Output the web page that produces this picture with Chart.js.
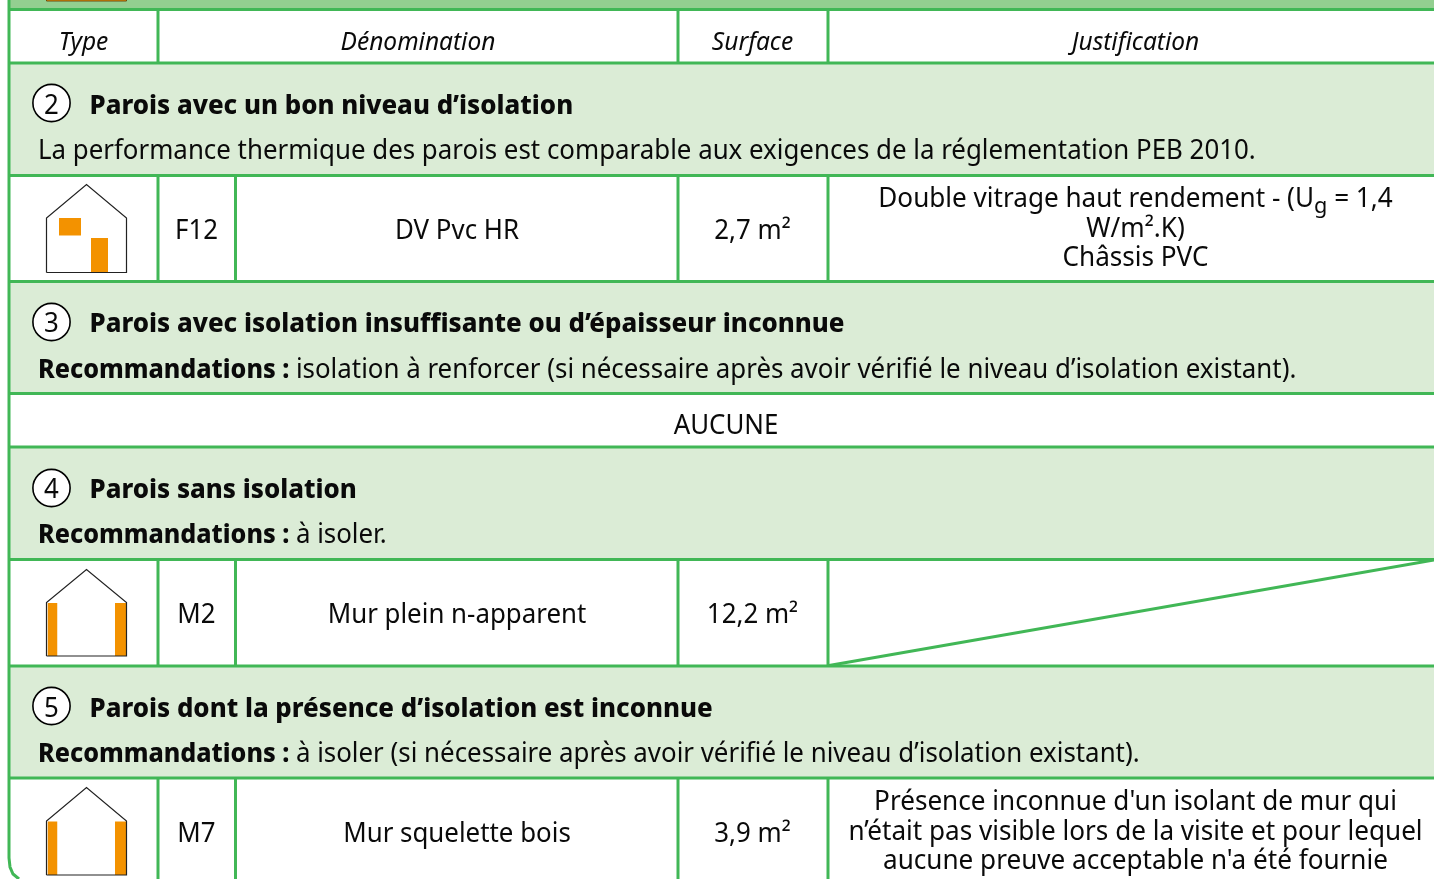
<!DOCTYPE html>
<html lang="fr"><head><meta charset="utf-8">
<script src="https://cdn.jsdelivr.net/npm/chart.js@4/dist/chart.umd.js"></script>
<style>html,body{margin:0;padding:0;background:#fff;overflow:hidden}canvas{display:block}</style>
</head><body><canvas id="c" width="1434" height="879"></canvas>
<script>
// ----- content -----
const headers = ['Type','Dénomination','Surface','Justification'];
const sectionNumbers = ['2','3','4','5'];
const sectionTitles = ['Parois avec un bon niveau d’isolation','Parois avec isolation insuffisante ou d’épaisseur inconnue','Parois sans isolation','Parois dont la présence d’isolation est inconnue'];
const sectionLead = ['','Recommandations :','Recommandations :','Recommandations :'];
const sectionNotes = ['La performance thermique des parois est comparable aux exigences de la réglementation PEB 2010.','isolation à renforcer (si nécessaire après avoir vérifié le niveau d’isolation existant).','à isoler.','à isoler (si nécessaire après avoir vérifié le niveau d’isolation existant).'];
const rowCodes = ['F12','M2','M7'];
const rowNames = ['DV Pvc HR','Mur plein n-apparent','Mur squelette bois'];
const rowSurfaces = ['2,7 m²','12,2 m²','3,9 m²'];
const rowNotes = [['Double vitrage haut rendement - (U|g| = 1,4','W/m².K)','Châssis PVC'],[],['Présence inconnue d\'un isolant de mur qui','n’était pas visible lors de la visite et pour lequel','aucune preuve acceptable n\'a été fournie']];
const emptyLabel = 'AUCUNE';
// ----- table geometry in axis units -----
const sectionTop = [63,281.5,447,666];
const sectionBottom = [175.5,393.5,559.5,778];
const rowTextY = [239,623,842];
const rowNoteY = [207,null,810];
const houseApex = [184.5,569.5,787.5];
const houseEave = [218,602.5,821];
const houseBase = [272.5,656,875];

const GREEN='#41b756', BAND='#dbecd6', TOPBAND='#93cf90', ORANGE='#f39200', INK='#0a0a0a';
const ds=[];
function rect(x0,x1,y0,y1,c){ds.push({type:'line',data:[{x:x0,y:y0},{x:x1,y:y0}],borderWidth:0,borderColor:c,backgroundColor:c,fill:{value:y1},pointRadius:0});}
function line(pts,c,w,t){ds.push({type:'line',data:pts.map(p=>({x:p[0],y:p[1]})),borderColor:c,borderWidth:w,pointRadius:0,fill:false,tension:t||0});}
const RW=3;
rect(9,1434,0,9,TOPBAND);
sectionTop.forEach((t,i)=>rect(9,1434,t,sectionBottom[i],BAND));
rect(46.5,126.5,-2,1,ORANGE);
line([[46.5,-2],[46.5,1],[126.5,1],[126.5,-2]],'#6b4a10',1);
const hr=[9.5,63,...sectionBottom,...sectionTop.slice(1)];
hr.forEach(y=>line([[9,y],[1434,y]],GREEN,RW));
line([[9,0],[9,858],[10,867],[13,874],[19,879]],GREEN,RW);
[158,678,828].forEach(x=>line([[x,10],[x,63]],GREEN,RW));
[[175.5,281.5],[559.5,666],[778,879]].forEach(([a,b])=>[158,235.5,678,828].forEach(x=>line([[x,a],[x,b]],GREEN,RW)));
line([[829,665.5],[1434,560]],GREEN,RW);
houseApex.forEach((a,i)=>{
  const e=houseEave[i],b=houseBase[i];
  if(i===0){rect(59,81,e,e+17.5,ORANGE);rect(91,108,e+20,b,ORANGE);}
  else{rect(47.5,57.5,e+.5,b,ORANGE);rect(115,126,e+.5,b,ORANGE);}
  line([[46.5,b],[46.5,e],[86.5,a],[126.5,e],[126.5,b],[46.5,b]],'#222',1.2);
});
ds.push({type:'scatter',data:[103,322,488,706].map(y=>({x:51.5,y})),pointRadius:18.6,pointBorderWidth:1.6,pointBorderColor:'#000',pointBackgroundColor:'#fff',showLine:false});
ds.forEach((d,i)=>d.order=ds.length-i);

const FONT='"Noto Sans"';
const SX={normal:0.976,cell:0.985,bold:0.975,lead:0.947,italic:1.0};
const plugin={id:'tableText',afterDatasetsDraw(ch){
  const g=ch.ctx,X=v=>ch.scales.x.getPixelForValue(v),Y=v=>ch.scales.y.getPixelForValue(v);
  g.textBaseline='alphabetic';g.fillStyle=INK;
  const w=r=>{g.font=r.f;return g.measureText(r.t).width*r.sx;};
  function put(runs,x,y,align){
    let px=X(x),py=Y(y);
    if(align==='center')px-=runs.reduce((s,r)=>s+w(r),0)/2;
    runs.forEach(r=>{g.save();g.font=r.f;g.textAlign='left';g.translate(px,py+(r.dy||0));g.scale(r.sx,1);g.fillText(r.t,0,0);g.restore();px+=w(r);});
  }
  const N=(t,s)=>({t,f:'26.5px '+FONT,sx:s||SX.normal});
  const B=(t,s)=>({t,f:'800 26.5px '+FONT,sx:s||SX.bold});
  const I=t=>({t,f:'italic 24.5px '+FONT,sx:SX.italic});
  const hc=[83.5,418,752.5,1135.5];
  headers.forEach((h,i)=>put([I(h)],hc[i],50,'center'));
  sectionNumbers.forEach((n,i)=>{
    const t=sectionTop[i];
    put([N(n)],51.5,t+50.5,'center');
    put([B(sectionTitles[i])],89.5,t+50.5);
    const runs=[];if(sectionLead[i]){runs.push(B(sectionLead[i]+' ',SX.lead));}
    runs.push(N(sectionNotes[i]));put(runs,38,t+96);
  });
  put([N(emptyLabel)],726,434,'center');
  rowCodes.forEach((c,i)=>{
    put([N(c)],196.5,rowTextY[i],'center');
    put([N(rowNames[i])],457,rowTextY[i],'center');
    put([N(rowSurfaces[i])],752.5,rowTextY[i],'center');
    rowNotes[i].forEach((l,j)=>{
      const y=rowNoteY[i]+j*29.5;
      const runs=l.split('|').map((s,k)=>{const r=N(s,SX.cell);if(k===1){r.dy=6;r.f='22px '+FONT;}return r;});
      put(runs,1135.5,y,'center');
    });
  });
}};
new Chart(document.getElementById('c'),{type:'line',data:{datasets:ds},plugins:[plugin],options:{
  responsive:false,animation:false,events:[],
  layout:{padding:0,autoPadding:false},
  plugins:{legend:{display:false},tooltip:{enabled:false},title:{display:false}},
  scales:{x:{type:'linear',min:0,max:1434,display:false},y:{type:'linear',min:0,max:879,reverse:true,display:false}}
}});
</script></body></html>
